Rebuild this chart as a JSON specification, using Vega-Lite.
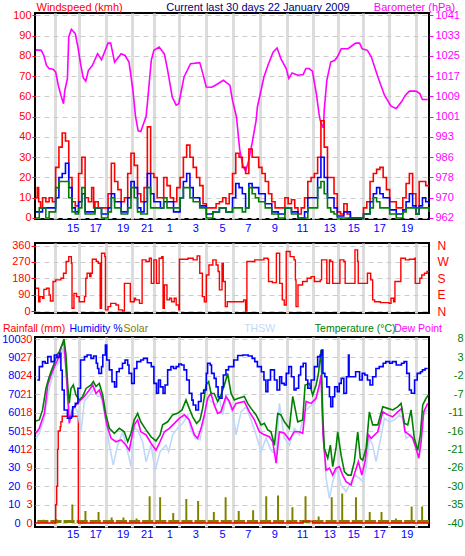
{
  "$schema": "https://vega.github.io/schema/vega-lite/v6.json",
  "autosize": {"type": "pad"},
  "padding": 0,
  "background": "white",
  "bounds": "flush",
  "spacing": 24,
  "config": {
    "view": {"stroke": "black", "strokeWidth": 2},
    "axis": {"labelFont": "Liberation Sans", "labelFontSize": 11, "domain": false, "labelFlush": false, "labelOverlap": false, "labelBound": false, "labelLimit": 400}
  },
  "datasets": {
    "baro": [
      {"t":0,"v":1027.6},{"t":0.4,"v":1027.4},{"t":0.6,"v":1025.4},{"t":0.8,"v":1021.5},{"t":1.0,"v":1020.3},{"t":1.3,"v":1020},{"t":1.5,"v":1019},{"t":1.7,"v":1013.8},{"t":1.9,"v":1009.9},{"t":2.1,"v":1006.6},{"t":2.2,"v":1011.8},{"t":2.4,"v":1016.4},{"t":2.5,"v":1032.6},{"t":2.7,"v":1035.6},{"t":3.0,"v":1033.9},{"t":3.2,"v":1028.7},{"t":3.4,"v":1022.2},{"t":3.6,"v":1016.7},{"t":3.8,"v":1015.4},{"t":4.0,"v":1019.6},{"t":4.3,"v":1021.5},{"t":4.7,"v":1026.1},{"t":5.0,"v":1023.7},{"t":5.5,"v":1030.2},{"t":5.7,"v":1030.2},{"t":6.0,"v":1022.8},{"t":6.5,"v":1026.1},{"t":6.8,"v":1025.4},{"t":7.1,"v":1022.8},{"t":7.4,"v":1011.8},{"t":7.6,"v":1001.5},{"t":7.8,"v":996},{"t":8.0,"v":995.7},{"t":8.2,"v":998.7},{"t":8.4,"v":1001.5},{"t":8.5,"v":1006.6},{"t":8.8,"v":1023.5},{"t":9.0,"v":1027.4},{"t":9.4,"v":1028.7},{"t":9.8,"v":1026},{"t":10.05,"v":1019.6},{"t":10.4,"v":1009.2},{"t":10.7,"v":1006},{"t":10.9,"v":1006.6},{"t":11.3,"v":1017},{"t":11.8,"v":1022.2},{"t":12.5,"v":1022.6},{"t":12.7,"v":1019},{"t":13.0,"v":1013.1},{"t":13.4,"v":1013},{"t":13.7,"v":1013.8},{"t":14.3,"v":1015.7},{"t":14.8,"v":1013.8},{"t":15.0,"v":1007.9},{"t":15.3,"v":1001.5},{"t":15.55,"v":988.7},{"t":15.8,"v":982.3},{"t":16.0,"v":980.3},{"t":16.2,"v":983.6},{"t":16.5,"v":991.3},{"t":16.8,"v":1000},{"t":16.9,"v":1005.3},{"t":17.4,"v":1017},{"t":17.7,"v":1021.5},{"t":18.1,"v":1026.7},{"t":18.4,"v":1028.3},{"t":18.7,"v":1024.1},{"t":19.1,"v":1020.3},{"t":19.3,"v":1016.4},{"t":19.55,"v":1018.6},{"t":20.0,"v":1017.7},{"t":20.4,"v":1018},{"t":20.6,"v":1020.3},{"t":20.85,"v":1020.3},{"t":21.1,"v":1019.3},{"t":21.4,"v":1010.5},{"t":21.6,"v":1002.8},{"t":21.7,"v":1000},{"t":21.9,"v":997.4},{"t":21.95,"v":997.4},{"t":22.0,"v":1004},{"t":22.2,"v":1015.7},{"t":22.5,"v":1022.8},{"t":22.8,"v":1023.5},{"t":23.0,"v":1024.8},{"t":23.3,"v":1028},{"t":23.8,"v":1028},{"t":24.0,"v":1028.7},{"t":24.4,"v":1030.2},{"t":24.7,"v":1030.2},{"t":24.9,"v":1028},{"t":25.3,"v":1027.4},{"t":25.6,"v":1024.8},{"t":26.1,"v":1017},{"t":26.6,"v":1009.9},{"t":27.1,"v":1005.6},{"t":27.5,"v":1004.7},{"t":27.9,"v":1007.3},{"t":28.2,"v":1009.9},{"t":28.5,"v":1011.5},{"t":29.0,"v":1011.5},{"t":29.3,"v":1010.5},{"t":29.5,"v":1008.2},{"t":29.9,"v":1008.2}
    ],
    "gust": [
      {"t":0,"v":10},{"t":0.1,"v":15},{"t":0.2,"v":8},{"t":0.35,"v":5},{"t":0.5,"v":10},{"t":0.75,"v":8},{"t":1.0,"v":10},{"t":1.25,"v":8},{"t":1.5,"v":25},{"t":1.75,"v":35},{"t":2.0,"v":42},{"t":2.25,"v":38},{"t":2.5,"v":20},{"t":2.75,"v":8},{"t":3.0,"v":6},{"t":3.25,"v":22},{"t":3.5,"v":30},{"t":3.75,"v":10},{"t":4.0,"v":8},{"t":4.25,"v":15},{"t":4.4,"v":5},{"t":4.5,"v":8},{"t":4.75,"v":5},{"t":5.0,"v":5},{"t":5.25,"v":5},{"t":5.5,"v":12},{"t":5.75,"v":27},{"t":6.0,"v":18},{"t":6.25,"v":14},{"t":6.5,"v":8},{"t":6.75,"v":10},{"t":7.0,"v":22},{"t":7.25,"v":32},{"t":7.5,"v":26},{"t":7.75,"v":12},{"t":8.0,"v":8},{"t":8.25,"v":15},{"t":8.5,"v":45},{"t":8.75,"v":22},{"t":9.0,"v":20},{"t":9.25,"v":10},{"t":9.5,"v":10},{"t":9.75,"v":20},{"t":10.0,"v":16},{"t":10.25,"v":10},{"t":10.5,"v":8},{"t":10.75,"v":15},{"t":11.0,"v":20},{"t":11.25,"v":30},{"t":11.5,"v":36},{"t":11.75,"v":30},{"t":12.0,"v":25},{"t":12.25,"v":20},{"t":12.5,"v":16},{"t":12.75,"v":7},{"t":13.0,"v":5},{"t":13.25,"v":5},{"t":13.5,"v":5},{"t":13.75,"v":7},{"t":14.0,"v":8},{"t":14.25,"v":10},{"t":14.5,"v":7},{"t":14.75,"v":12},{"t":15.0,"v":22},{"t":15.25,"v":32},{"t":15.5,"v":30},{"t":15.75,"v":25},{"t":16.0,"v":22},{"t":16.25,"v":34},{"t":16.5,"v":30},{"t":16.75,"v":30},{"t":17.0,"v":25},{"t":17.25,"v":22},{"t":17.5,"v":18},{"t":17.75,"v":12},{"t":18.0,"v":8},{"t":18.25,"v":5},{"t":18.5,"v":5},{"t":18.75,"v":5},{"t":19.0,"v":10},{"t":19.25,"v":7},{"t":19.5,"v":9},{"t":19.75,"v":5},{"t":20.0,"v":2},{"t":20.25,"v":5},{"t":20.5,"v":10},{"t":20.75,"v":18},{"t":21.0,"v":20},{"t":21.25,"v":22},{"t":21.5,"v":30},{"t":21.75,"v":48},{"t":22.0,"v":35},{"t":22.25,"v":20},{"t":22.5,"v":20},{"t":22.75,"v":12},{"t":23.0,"v":3},{"t":23.25,"v":2},{"t":23.5,"v":7},{"t":23.75,"v":2},{"t":24.0,"v":0},{"t":25.0,"v":5},{"t":25.25,"v":8},{"t":25.5,"v":18},{"t":25.75,"v":22},{"t":26.0,"v":24},{"t":26.25,"v":25},{"t":26.5,"v":20},{"t":26.75,"v":14},{"t":27.0,"v":8},{"t":27.25,"v":8},{"t":27.5,"v":5},{"t":27.75,"v":5},{"t":28.0,"v":10},{"t":28.25,"v":17},{"t":28.5,"v":22},{"t":28.75,"v":12},{"t":29.0,"v":5},{"t":29.25,"v":18},{"t":29.5,"v":18},{"t":29.75,"v":16},{"t":30,"v":16}
    ],
    "avg": [
      {"t":0,"v":3},{"t":0.5,"v":5},{"t":1,"v":5},{"t":1.5,"v":10},{"t":1.75,"v":20},{"t":2,"v":22},{"t":2.25,"v":27},{"t":2.5,"v":15},{"t":2.75,"v":5},{"t":3,"v":3},{"t":3.25,"v":8},{"t":3.5,"v":12},{"t":3.75,"v":3},{"t":4,"v":3},{"t":4.5,"v":5},{"t":5,"v":2},{"t":5.5,"v":5},{"t":5.75,"v":12},{"t":6,"v":8},{"t":6.5,"v":3},{"t":7,"v":10},{"t":7.25,"v":18},{"t":7.5,"v":15},{"t":7.75,"v":5},{"t":8,"v":3},{"t":8.25,"v":8},{"t":8.5,"v":22},{"t":8.75,"v":12},{"t":9,"v":8},{"t":9.5,"v":5},{"t":9.75,"v":8},{"t":10,"v":8},{"t":10.5,"v":3},{"t":11,"v":10},{"t":11.25,"v":18},{"t":11.5,"v":22},{"t":11.75,"v":15},{"t":12,"v":10},{"t":12.5,"v":6},{"t":13,"v":2},{"t":13.5,"v":3},{"t":14,"v":5},{"t":14.5,"v":3},{"t":15,"v":10},{"t":15.25,"v":17},{"t":15.5,"v":15},{"t":15.75,"v":12},{"t":16,"v":5},{"t":16.25,"v":17},{"t":16.5,"v":15},{"t":16.75,"v":15},{"t":17,"v":12},{"t":17.5,"v":7},{"t":18,"v":3},{"t":18.5,"v":2},{"t":19,"v":5},{"t":19.5,"v":3},{"t":20,"v":0},{"t":20.5,"v":3},{"t":20.75,"v":10},{"t":21,"v":10},{"t":21.5,"v":20},{"t":21.75,"v":30},{"t":22,"v":20},{"t":22.25,"v":10},{"t":22.5,"v":10},{"t":22.75,"v":5},{"t":23,"v":1},{"t":23.5,"v":3},{"t":24,"v":0},{"t":25,"v":2},{"t":25.5,"v":8},{"t":25.75,"v":12},{"t":26,"v":15},{"t":26.25,"v":12},{"t":26.5,"v":10},{"t":27,"v":4},{"t":27.5,"v":2},{"t":28,"v":4},{"t":28.25,"v":8},{"t":28.5,"v":12},{"t":28.75,"v":6},{"t":29,"v":2},{"t":29.25,"v":6},{"t":29.5,"v":10},{"t":29.75,"v":8},{"t":30,"v":7}
    ],
    "low": [
      {"t":0,"v":0},{"t":0.25,"v":5},{"t":0.5,"v":5},{"t":0.75,"v":0},{"t":1,"v":3},{"t":1.5,"v":15},{"t":1.75,"v":18},{"t":2,"v":18},{"t":2.25,"v":18},{"t":2.5,"v":10},{"t":2.75,"v":3},{"t":3,"v":2},{"t":3.25,"v":5},{"t":3.5,"v":15},{"t":3.75,"v":2},{"t":4,"v":2},{"t":4.5,"v":5},{"t":5,"v":0},{"t":5.5,"v":3},{"t":5.75,"v":10},{"t":6,"v":5},{"t":6.5,"v":2},{"t":7,"v":5},{"t":7.25,"v":15},{"t":7.5,"v":10},{"t":7.75,"v":3},{"t":8,"v":2},{"t":8.5,"v":15},{"t":8.75,"v":5},{"t":9,"v":5},{"t":9.5,"v":5},{"t":9.75,"v":10},{"t":10,"v":5},{"t":10.5,"v":5},{"t":11,"v":10},{"t":11.25,"v":15},{"t":11.5,"v":15},{"t":11.75,"v":10},{"t":12,"v":8},{"t":12.5,"v":5},{"t":13,"v":0},{"t":13.5,"v":3},{"t":14,"v":5},{"t":14.5,"v":3},{"t":15,"v":5},{"t":15.75,"v":3},{"t":16,"v":5},{"t":16.25,"v":15},{"t":16.5,"v":12},{"t":16.75,"v":10},{"t":17,"v":8},{"t":17.5,"v":5},{"t":18,"v":2},{"t":18.5,"v":0},{"t":19,"v":5},{"t":19.5,"v":2},{"t":20,"v":0},{"t":20.75,"v":5},{"t":21.5,"v":15},{"t":21.75,"v":18},{"t":22,"v":12},{"t":22.25,"v":5},{"t":22.5,"v":3},{"t":22.75,"v":2},{"t":23,"v":0},{"t":25,"v":2},{"t":25.5,"v":5},{"t":25.75,"v":10},{"t":26,"v":8},{"t":26.25,"v":5},{"t":27,"v":2},{"t":27.5,"v":0},{"t":28,"v":3},{"t":28.25,"v":5},{"t":29,"v":2},{"t":29.25,"v":5},{"t":30,"v":3}
    ],
    "dir": [
      {"t":0,"v":125},{"t":0.2,"v":51},{"t":0.3,"v":79},{"t":0.5,"v":70},{"t":0.6,"v":119},{"t":0.8,"v":125},{"t":1.0,"v":88},{"t":1.1,"v":55},{"t":1.3,"v":162},{"t":1.5,"v":171},{"t":1.9,"v":180},{"t":2.1,"v":208},{"t":2.3,"v":272},{"t":2.5,"v":299},{"t":2.7,"v":263},{"t":2.75,"v":15},{"t":2.9,"v":97},{"t":3.1,"v":79},{"t":3.3,"v":51},{"t":3.7,"v":79},{"t":3.8,"v":180},{"t":3.9,"v":208},{"t":4.1,"v":189},{"t":4.2,"v":208},{"t":4.3,"v":285},{"t":4.6,"v":272},{"t":4.75,"v":263},{"t":4.9,"v":15},{"t":5.0,"v":318},{"t":5.25,"v":299},{"t":5.3,"v":6},{"t":5.5,"v":24},{"t":5.7,"v":42},{"t":6.1,"v":33},{"t":6.3,"v":6},{"t":6.6,"v":0},{"t":6.75,"v":152},{"t":7.1,"v":152},{"t":7.2,"v":51},{"t":7.5,"v":70},{"t":7.6,"v":61},{"t":7.9,"v":42},{"t":8.1,"v":281},{"t":8.4,"v":272},{"t":8.65,"v":290},{"t":8.8,"v":152},{"t":9.0,"v":281},{"t":9.2,"v":152},{"t":9.4,"v":290},{"t":9.6,"v":299},{"t":9.7,"v":15},{"t":9.8,"v":143},{"t":10.0,"v":61},{"t":10.2,"v":70},{"t":10.35,"v":51},{"t":10.55,"v":70},{"t":10.7,"v":33},{"t":10.9,"v":6},{"t":10.95,"v":285},{"t":11.6,"v":290},{"t":12.0,"v":281},{"t":12.3,"v":303},{"t":12.5,"v":208},{"t":12.7,"v":79},{"t":12.85,"v":51},{"t":13.0,"v":198},{"t":13.2,"v":253},{"t":13.5,"v":281},{"t":13.75,"v":253},{"t":13.9,"v":217},{"t":14.0,"v":116},{"t":14.2,"v":263},{"t":14.3,"v":162},{"t":14.45,"v":24},{"t":14.6,"v":51},{"t":15.85,"v":61},{"t":16.0,"v":0},{"t":16.1,"v":272},{"t":16.7,"v":281},{"t":17.4,"v":290},{"t":17.7,"v":285},{"t":17.75,"v":162},{"t":18.05,"v":156},{"t":18.35,"v":318},{"t":18.6,"v":152},{"t":18.8,"v":61},{"t":18.95,"v":33},{"t":19.1,"v":327},{"t":19.4,"v":299},{"t":19.7,"v":281},{"t":19.8,"v":171},{"t":19.85,"v":24},{"t":20.0,"v":143},{"t":20.35,"v":162},{"t":20.7,"v":180},{"t":21.0,"v":189},{"t":21.25,"v":162},{"t":21.7,"v":171},{"t":21.8,"v":281},{"t":22.1,"v":281},{"t":22.2,"v":152},{"t":22.4,"v":281},{"t":22.5,"v":272},{"t":22.65,"v":152},{"t":23.1,"v":152},{"t":23.2,"v":281},{"t":23.5,"v":272},{"t":23.6,"v":152},{"t":24.25,"v":152},{"t":24.35,"v":336},{"t":24.55,"v":272},{"t":24.6,"v":152},{"t":25.25,"v":152},{"t":25.3,"v":208},{"t":25.55,"v":171},{"t":25.7,"v":61},{"t":25.85,"v":51},{"t":26.3,"v":46},{"t":26.95,"v":42},{"t":27.1,"v":70},{"t":27.3,"v":51},{"t":27.4,"v":162},{"t":27.7,"v":162},{"t":27.85,"v":290},{"t":28.2,"v":281},{"t":28.5,"v":285},{"t":28.9,"v":290},{"t":28.95,"v":152},{"t":29.3,"v":180},{"t":29.45,"v":198},{"t":29.65,"v":208},{"t":29.85,"v":217},{"t":30,"v":217}
    ],
    "rain": [
      {"t":0,"v":0},{"t":1.47,"v":0},{"t":1.5,"v":3},{"t":1.58,"v":6},{"t":1.65,"v":12},{"t":1.7,"v":15},{"t":1.85,"v":15.7},{"t":1.9,"v":16.5},{"t":2.0,"v":17.4},{"t":3.23,"v":0},{"t":20.4,"v":0.3},{"t":21.1,"v":0},{"t":30,"v":0}
    ],
    "solar": [
      {"t":0.1,"v":1.6},{"t":0.5,"v":1.8},{"t":0.65,"v":1.6},{"t":0.95,"v":0},
      {"t":1.1,"v":1.6},{"t":1.5,"v":2},{"t":1.65,"v":1.6},{"t":1.95,"v":0},
      {"t":2.1,"v":1.6},{"t":2.7,"v":10},{"t":2.85,"v":1.6},{"t":2.95,"v":0},
      {"t":3.1,"v":1.6},{"t":3.7,"v":6.5},{"t":3.85,"v":1.6},{"t":3.95,"v":0},
      {"t":4.1,"v":1.6},{"t":4.7,"v":6},{"t":4.85,"v":1.6},{"t":4.95,"v":0},
      {"t":5.1,"v":1.6},{"t":5.7,"v":3},{"t":5.85,"v":1.6},{"t":5.95,"v":0},
      {"t":6.1,"v":1.6},{"t":6.6,"v":3},{"t":6.75,"v":1.6},{"t":6.95,"v":0},
      {"t":7.1,"v":1.6},{"t":7.6,"v":2.5},{"t":7.75,"v":1.6},{"t":7.95,"v":0},
      {"t":8.1,"v":1.6},{"t":8.6,"v":14.5},{"t":8.75,"v":1.6},{"t":8.95,"v":0},
      {"t":9.1,"v":1.6},{"t":9.4,"v":14},{"t":9.55,"v":1.6},{"t":9.95,"v":0},
      {"t":10.1,"v":1.6},{"t":10.4,"v":5.5},{"t":10.55,"v":1.6},{"t":10.95,"v":0},
      {"t":11.1,"v":1.6},{"t":11.4,"v":13},{"t":11.55,"v":1.6},{"t":11.95,"v":0},
      {"t":12.1,"v":1.6},{"t":12.3,"v":12},{"t":12.45,"v":1.6},{"t":12.95,"v":0},
      {"t":13.1,"v":1.6},{"t":13.5,"v":6},{"t":13.65,"v":1.6},{"t":13.95,"v":0},
      {"t":14.1,"v":1.6},{"t":14.4,"v":14},{"t":14.55,"v":1.6},{"t":14.95,"v":0},
      {"t":15.1,"v":1.6},{"t":15.4,"v":6.5},{"t":15.55,"v":1.6},{"t":15.95,"v":0},
      {"t":16.1,"v":1.6},{"t":16.5,"v":7},{"t":16.65,"v":1.6},{"t":16.95,"v":0},
      {"t":17.1,"v":1.6},{"t":17.5,"v":14.5},{"t":17.65,"v":1.6},{"t":17.95,"v":0},
      {"t":18.1,"v":1.6},{"t":18.4,"v":15},{"t":18.55,"v":1.6},{"t":18.95,"v":0},
      {"t":19.1,"v":1.6},{"t":19.5,"v":8.5},{"t":19.65,"v":1.6},{"t":19.95,"v":0},
      {"t":20.1,"v":1.6},{"t":20.5,"v":14.5},{"t":20.65,"v":1.6},{"t":20.95,"v":0},
      {"t":21.1,"v":1.6},{"t":21.5,"v":3.5},{"t":21.65,"v":1.6},{"t":21.95,"v":0},
      {"t":22.1,"v":1.6},{"t":22.5,"v":14},{"t":22.65,"v":1.6},{"t":22.95,"v":0},
      {"t":23.1,"v":1.6},{"t":23.3,"v":16},{"t":23.45,"v":1.6},{"t":23.95,"v":0},
      {"t":24.1,"v":1.6},{"t":24.35,"v":14},{"t":24.5,"v":1.6},{"t":24.95,"v":0},
      {"t":25.1,"v":1.6},{"t":25.4,"v":6},{"t":25.55,"v":1.6},{"t":25.95,"v":0},
      {"t":26.1,"v":1.6},{"t":26.3,"v":6},{"t":26.45,"v":1.6},{"t":26.95,"v":0},
      {"t":27.1,"v":1.6},{"t":27.4,"v":2.5},{"t":27.55,"v":1.6},{"t":27.95,"v":0},
      {"t":28.1,"v":1.6},{"t":28.6,"v":9},{"t":28.75,"v":1.6},{"t":28.95,"v":0},
      {"t":29.1,"v":1.6},{"t":29.4,"v":9},{"t":29.55,"v":1.6},{"t":30,"v":1.6}
    ],
    "hum": [
      {"t":0.1,"v":77.7},{"t":0.25,"v":85},{"t":0.5,"v":87.7},{"t":0.7,"v":86.8},{"t":0.9,"v":90.4},{"t":1.15,"v":87.7},{"t":1.4,"v":91.3},{"t":1.6,"v":90},{"t":1.8,"v":92.2},{"t":1.9,"v":83},{"t":2.0,"v":72.3},{"t":2.15,"v":61.4},{"t":2.4,"v":57},{"t":2.7,"v":57.8},{"t":2.8,"v":63.2},{"t":3.0,"v":65},{"t":3.2,"v":73.2},{"t":3.4,"v":88.6},{"t":3.7,"v":90.4},{"t":3.9,"v":91.3},{"t":4.2,"v":89.5},{"t":4.4,"v":90.8},{"t":4.6,"v":86.8},{"t":4.7,"v":84},{"t":4.8,"v":81.3},{"t":5.0,"v":85},{"t":5.1,"v":91.3},{"t":5.3,"v":96.7},{"t":5.4,"v":88.6},{"t":5.6,"v":83.2},{"t":5.8,"v":76.8},{"t":6.0,"v":74},{"t":6.15,"v":82.2},{"t":6.35,"v":84},{"t":6.6,"v":86.8},{"t":6.8,"v":88.6},{"t":7.0,"v":85.9},{"t":7.1,"v":81.3},{"t":7.3,"v":75.9},{"t":7.5,"v":84},{"t":7.7,"v":87.7},{"t":8.0,"v":88.6},{"t":8.2,"v":89.5},{"t":8.5,"v":87.1},{"t":8.8,"v":85},{"t":9.0,"v":75.9},{"t":9.2,"v":70.5},{"t":9.35,"v":77.7},{"t":9.5,"v":74},{"t":9.7,"v":70.5},{"t":9.85,"v":75},{"t":10.05,"v":83.2},{"t":10.3,"v":85},{"t":10.5,"v":84},{"t":10.7,"v":85},{"t":10.9,"v":86.4},{"t":11.1,"v":85.9},{"t":11.3,"v":83.2},{"t":11.5,"v":77.7},{"t":11.7,"v":70.5},{"t":11.9,"v":66.8},{"t":12.0,"v":64.1},{"t":12.2,"v":61.4},{"t":12.4,"v":66},{"t":12.6,"v":70.5},{"t":12.8,"v":72.3},{"t":13.0,"v":81.3},{"t":13.1,"v":86.8},{"t":13.3,"v":85.9},{"t":13.4,"v":81.3},{"t":13.6,"v":78.6},{"t":13.75,"v":74},{"t":13.9,"v":68.6},{"t":14.0,"v":67.8},{"t":14.2,"v":74},{"t":14.3,"v":80.4},{"t":14.5,"v":83.2},{"t":14.7,"v":85},{"t":14.9,"v":85},{"t":15.1,"v":88.6},{"t":15.4,"v":91},{"t":15.8,"v":91.3},{"t":16.2,"v":90.8},{"t":16.5,"v":89.5},{"t":16.7,"v":87.7},{"t":16.9,"v":85},{"t":17.2,"v":82.2},{"t":17.4,"v":77.7},{"t":17.55,"v":71.4},{"t":17.7,"v":77.7},{"t":17.9,"v":83.2},{"t":18.2,"v":77.7},{"t":18.4,"v":72.3},{"t":18.6,"v":79.5},{"t":18.75,"v":75.9},{"t":18.95,"v":75},{"t":19.1,"v":81.3},{"t":19.3,"v":85},{"t":19.5,"v":79.5},{"t":19.7,"v":72.3},{"t":19.85,"v":73.2},{"t":20.05,"v":80.4},{"t":20.2,"v":85},{"t":20.4,"v":86.8},{"t":20.6,"v":77.7},{"t":20.75,"v":73.2},{"t":21.0,"v":77.7},{"t":21.25,"v":85},{"t":21.5,"v":90.4},{"t":21.7,"v":91.3},{"t":21.8,"v":94},{"t":21.9,"v":81.3},{"t":22.05,"v":79.5},{"t":22.2,"v":74},{"t":22.4,"v":68.6},{"t":22.5,"v":63.2},{"t":22.65,"v":68.6},{"t":22.8,"v":74},{"t":23.0,"v":71.4},{"t":23.15,"v":75.9},{"t":23.3,"v":78.6},{"t":23.5,"v":70.5},{"t":23.7,"v":79.5},{"t":23.85,"v":91.3},{"t":23.9,"v":79.5},{"t":24.2,"v":79.5},{"t":24.4,"v":82.2},{"t":24.7,"v":77.7},{"t":24.9,"v":81.3},{"t":25.1,"v":80.4},{"t":25.3,"v":77.7},{"t":25.5,"v":75},{"t":25.7,"v":79.5},{"t":25.95,"v":84},{"t":26.2,"v":85},{"t":26.5,"v":86.8},{"t":26.7,"v":87.7},{"t":27.0,"v":86.8},{"t":27.2,"v":87.7},{"t":27.5,"v":85.9},{"t":27.9,"v":86.8},{"t":28.1,"v":87.7},{"t":28.3,"v":81.3},{"t":28.5,"v":72.3},{"t":28.65,"v":70.5},{"t":28.9,"v":77.7},{"t":29.1,"v":81.3},{"t":29.35,"v":82.2},{"t":29.5,"v":83.2},{"t":29.7,"v":84},{"t":29.9,"v":84}
    ],
    "temp": [
      {"t":0,"v":-13.4},{"t":0.25,"v":-13.1},{"t":0.5,"v":-10.5},{"t":0.76,"v":-4.9},{"t":0.97,"v":-2.3},{"t":1.15,"v":-0.5},{"t":1.4,"v":1.7},{"t":1.58,"v":3.8},{"t":1.78,"v":4.7},{"t":1.98,"v":6.4},{"t":2.14,"v":8},{"t":2.29,"v":3.8},{"t":2.42,"v":-4},{"t":2.54,"v":-8.8},{"t":2.67,"v":-4.9},{"t":2.85,"v":-4},{"t":3.05,"v":-6.6},{"t":3.3,"v":-7.9},{"t":3.56,"v":-7},{"t":3.82,"v":-4.9},{"t":4.2,"v":-4},{"t":4.38,"v":-3.1},{"t":4.58,"v":-4.4},{"t":4.83,"v":-3.6},{"t":5.09,"v":-6.6},{"t":5.34,"v":-11.8},{"t":5.6,"v":-15.3},{"t":5.98,"v":-16.6},{"t":6.36,"v":-15.3},{"t":6.74,"v":-16.2},{"t":7.0,"v":-18.8},{"t":7.25,"v":-16.6},{"t":7.5,"v":-13.1},{"t":7.76,"v":-11.4},{"t":8.0,"v":-13.6},{"t":8.4,"v":-15.7},{"t":8.78,"v":-17.5},{"t":9.16,"v":-18.6},{"t":9.47,"v":-17},{"t":9.67,"v":-14.4},{"t":10.05,"v":-13.6},{"t":10.43,"v":-11.8},{"t":10.8,"v":-11.4},{"t":11.15,"v":-10.5},{"t":11.45,"v":-7.9},{"t":11.7,"v":-10.1},{"t":11.96,"v":-12.3},{"t":12.26,"v":-14},{"t":12.52,"v":-13.1},{"t":12.72,"v":-10.1},{"t":12.98,"v":-4},{"t":13.18,"v":-3.1},{"t":13.36,"v":-6.2},{"t":13.6,"v":-6.2},{"t":13.87,"v":-8.3},{"t":14.12,"v":-6.6},{"t":14.38,"v":-4},{"t":14.63,"v":-1},{"t":14.89,"v":-6.2},{"t":15.14,"v":-7.9},{"t":15.4,"v":-7.5},{"t":15.9,"v":-7},{"t":16.16,"v":-8.8},{"t":16.42,"v":-10.1},{"t":16.8,"v":-11.8},{"t":17.18,"v":-14.4},{"t":17.43,"v":-14},{"t":17.69,"v":-15.7},{"t":17.94,"v":-16.2},{"t":18.2,"v":-19.7},{"t":18.45,"v":-11.4},{"t":18.7,"v":-11.8},{"t":18.96,"v":-13.6},{"t":19.34,"v":-15.3},{"t":19.6,"v":-7},{"t":19.98,"v":-13.6},{"t":20.36,"v":-13.1},{"t":20.54,"v":-4},{"t":20.87,"v":-3.6},{"t":21.12,"v":-6.6},{"t":21.38,"v":-4},{"t":21.56,"v":-1},{"t":21.76,"v":5.1},{"t":21.89,"v":-11.8},{"t":22.01,"v":-20.5},{"t":22.27,"v":-23.1},{"t":22.47,"v":-19.7},{"t":22.65,"v":-25.3},{"t":22.9,"v":-20.5},{"t":23.03,"v":-16.2},{"t":23.29,"v":-22.3},{"t":23.54,"v":-26.6},{"t":23.8,"v":-27.5},{"t":24.05,"v":-27.5},{"t":24.3,"v":-24},{"t":24.56,"v":-16.2},{"t":24.76,"v":-23.1},{"t":24.94,"v":-23.6},{"t":25.2,"v":-20.5},{"t":25.45,"v":-11},{"t":25.7,"v":-14.4},{"t":26.09,"v":-14.4},{"t":26.47,"v":-9.7},{"t":26.85,"v":-10.1},{"t":27.23,"v":-10.5},{"t":27.61,"v":-9.7},{"t":27.87,"v":-8.8},{"t":28.12,"v":-14},{"t":28.38,"v":-14.4},{"t":28.63,"v":-10.5},{"t":28.88,"v":-17.9},{"t":29.14,"v":-21},{"t":29.34,"v":-17},{"t":29.52,"v":-9.2},{"t":29.77,"v":-7.5},{"t":29.95,"v":-6.6}
    ],
    "dew": [
      {"t":0,"v":-16.6},{"t":0.25,"v":-15.3},{"t":0.64,"v":-11.4},{"t":0.9,"v":-4},{"t":1.15,"v":-1.4},{"t":1.4,"v":0.8},{"t":1.65,"v":2.5},{"t":1.98,"v":6.4},{"t":2.14,"v":6.9},{"t":2.34,"v":-2.3},{"t":2.54,"v":-14},{"t":2.8,"v":-10.1},{"t":3.05,"v":-9.2},{"t":3.3,"v":-8.3},{"t":3.69,"v":-7},{"t":4.07,"v":-5.3},{"t":4.33,"v":-4},{"t":4.58,"v":-6.2},{"t":4.83,"v":-5.3},{"t":5.09,"v":-7.9},{"t":5.4,"v":-14.4},{"t":5.73,"v":-17.9},{"t":6.1,"v":-18.8},{"t":6.5,"v":-18.3},{"t":6.87,"v":-19.7},{"t":7.12,"v":-21},{"t":7.5,"v":-14.4},{"t":7.76,"v":-13.1},{"t":8.0,"v":-16.2},{"t":8.4,"v":-17},{"t":8.78,"v":-19.2},{"t":9.16,"v":-21},{"t":9.47,"v":-18.8},{"t":9.8,"v":-16.2},{"t":10.18,"v":-15.3},{"t":10.56,"v":-14},{"t":10.94,"v":-12.7},{"t":11.32,"v":-11.8},{"t":11.7,"v":-13.1},{"t":12.09,"v":-17},{"t":12.34,"v":-17.9},{"t":12.6,"v":-15.3},{"t":12.85,"v":-11.8},{"t":13.1,"v":-7.5},{"t":13.36,"v":-6.2},{"t":13.6,"v":-9.2},{"t":13.87,"v":-11.4},{"t":14.12,"v":-11},{"t":14.5,"v":-7},{"t":14.76,"v":-8.3},{"t":15.0,"v":-10.5},{"t":15.27,"v":-8.8},{"t":15.9,"v":-8.3},{"t":16.29,"v":-11},{"t":16.67,"v":-13.1},{"t":17.05,"v":-16.2},{"t":17.43,"v":-17},{"t":17.82,"v":-17.5},{"t":18.07,"v":-18.8},{"t":18.33,"v":-24.4},{"t":18.58,"v":-16.2},{"t":18.96,"v":-16.6},{"t":19.34,"v":-18.3},{"t":19.72,"v":-16.2},{"t":20.1,"v":-16.2},{"t":20.36,"v":-16.6},{"t":20.62,"v":-8.3},{"t":21.0,"v":-8.8},{"t":21.38,"v":-7.5},{"t":21.63,"v":-4},{"t":21.76,"v":-1.4},{"t":21.91,"v":-17},{"t":22.14,"v":-26.2},{"t":22.4,"v":-25.7},{"t":22.65,"v":-27.5},{"t":22.9,"v":-25.7},{"t":23.16,"v":-25.3},{"t":23.41,"v":-27.5},{"t":23.67,"v":-29.2},{"t":24.05,"v":-30.1},{"t":24.36,"v":-26.6},{"t":24.61,"v":-24},{"t":24.87,"v":-27.5},{"t":25.12,"v":-24},{"t":25.37,"v":-17},{"t":25.58,"v":-17.9},{"t":26.09,"v":-16.2},{"t":26.47,"v":-11},{"t":26.85,"v":-11.8},{"t":27.23,"v":-12.3},{"t":27.61,"v":-11},{"t":27.92,"v":-10.1},{"t":28.17,"v":-16.2},{"t":28.5,"v":-17},{"t":28.76,"v":-17.9},{"t":29.01,"v":-20.5},{"t":29.22,"v":-23.1},{"t":29.4,"v":-18.8},{"t":29.6,"v":-11},{"t":29.9,"v":-8.8}
    ],
    "thsw": [
      {"t":0,"v":-17.9},{"t":0.25,"v":-16.6},{"t":0.64,"v":-12.7},{"t":0.9,"v":-6.6},{"t":1.15,"v":-3.1},{"t":1.4,"v":0},{"t":1.78,"v":2.1},{"t":2.04,"v":5.6},{"t":2.24,"v":2.1},{"t":2.42,"v":-8.3},{"t":2.67,"v":-11.8},{"t":2.93,"v":-9.7},{"t":3.18,"v":-11},{"t":3.44,"v":-16.2},{"t":3.69,"v":-8.3},{"t":4.07,"v":-6.6},{"t":4.45,"v":-4.9},{"t":4.7,"v":-7},{"t":4.96,"v":-7},{"t":5.22,"v":-11},{"t":5.6,"v":-19.7},{"t":5.9,"v":-24.9},{"t":6.23,"v":-19.7},{"t":6.62,"v":-16.2},{"t":7.0,"v":-21.4},{"t":7.25,"v":-25.3},{"t":7.5,"v":-15.3},{"t":7.76,"v":-15.7},{"t":8.14,"v":-18.8},{"t":8.4,"v":-24},{"t":8.78,"v":-19.7},{"t":9.1,"v":-26.2},{"t":9.47,"v":-21.4},{"t":9.92,"v":-19.7},{"t":10.13,"v":-21.4},{"t":10.43,"v":-17},{"t":10.8,"v":-15.3},{"t":11.2,"v":-14},{"t":11.58,"v":-11.8},{"t":11.83,"v":-15.7},{"t":12.16,"v":-17.9},{"t":12.52,"v":-18.3},{"t":12.85,"v":-12.7},{"t":13.1,"v":-7.5},{"t":13.36,"v":-8.3},{"t":13.74,"v":-9.2},{"t":14.0,"v":-7.5},{"t":14.25,"v":-11.8},{"t":14.55,"v":-7},{"t":14.76,"v":-8.8},{"t":15.06,"v":-11.8},{"t":15.27,"v":-17},{"t":15.65,"v":-11},{"t":16.03,"v":-9.7},{"t":16.42,"v":-13.1},{"t":16.8,"v":-17},{"t":17.18,"v":-21.4},{"t":17.56,"v":-17.9},{"t":17.94,"v":-21},{"t":18.33,"v":-22.3},{"t":18.58,"v":-8.8},{"t":18.96,"v":-17.9},{"t":19.34,"v":-19.7},{"t":19.72,"v":-15.3},{"t":20.1,"v":-17},{"t":20.49,"v":-11},{"t":20.87,"v":-9.7},{"t":21.25,"v":-8.8},{"t":21.56,"v":-4.9},{"t":21.76,"v":-2.3},{"t":21.96,"v":-18.8},{"t":22.14,"v":-28.3},{"t":22.4,"v":-33.6},{"t":22.65,"v":-29.2},{"t":22.98,"v":-25.7},{"t":23.29,"v":-30.1},{"t":23.67,"v":-31.8},{"t":24.05,"v":-29.2},{"t":24.36,"v":-27.5},{"t":24.69,"v":-28.3},{"t":24.94,"v":-29.2},{"t":25.2,"v":-25.7},{"t":25.45,"v":-17.9},{"t":25.7,"v":-19.7},{"t":25.96,"v":-24},{"t":26.21,"v":-19.7},{"t":26.6,"v":-12.7},{"t":26.98,"v":-13.6},{"t":27.36,"v":-13.1},{"t":27.74,"v":-11.8},{"t":28.0,"v":-12.7},{"t":28.25,"v":-17.9},{"t":28.63,"v":-17},{"t":28.94,"v":-19.7},{"t":29.27,"v":-21.4},{"t":29.52,"v":-11.8},{"t":29.9,"v":-10.5}
    ]
  },
  "vconcat": [
    {
      "width": 394,
      "height": 206,
      "layer": [
        {
          "data": {"name": "baro"},
          "mark": {"type": "line", "color": "#ff00ff", "strokeWidth": 1.6},
          "encoding": {
            "x": {"field": "t", "type": "quantitative", "scale": {"domain": [-0.076, 30], "nice": false}, "title": null,
              "axis": {"orient": "top", "values": [0, 9.9, 25.75], "grid": false, "ticks": false, "labelPadding": 1, "labelAlign": "left",
                "labelExpr": "datum.value < 1 ? 'Windspeed (kmh)' : datum.value < 20 ? 'Current last 30 days 22 January 2009' : 'Barometer (hPa)'",
                "labelColor": {"condition": [{"test": "datum.value < 1", "value": "#ff0000"}, {"test": "datum.value < 20", "value": "#000080"}], "value": "#ff00ff"}}},
            "y": {"field": "v", "type": "quantitative", "scale": {"domain": [961.6, 1041.97], "nice": false}, "title": null,
              "axis": {"orient": "right", "values": [962, 969.9, 977.8, 985.7, 993.6, 1001.5, 1009.4, 1017.3, 1025.2, 1033.1, 1041],
                "labelExpr": "['962','970','978','986','993','1001','1009','1017','1025','1033','1041'][round((datum.value - 962) / 7.9)]",
                "grid": false, "tickColor": "#ff00ff", "tickSize": 4, "labelPadding": 2, "labelColor": "#ff00ff"}}
          }
        },
        {
          "data": {"name": "gust"},
          "mark": {"type": "line", "interpolate": "step-after", "color": "#ff0000", "strokeWidth": 1.6},
          "encoding": {
            "x": {"field": "t", "type": "quantitative", "scale": {"domain": [-0.076, 30], "nice": false}, "title": null,
              "axis": {"orient": "bottom", "values": [1.47, 3.26, 5.34, 7.33, 9.03, 10.94, 12.98, 15.02, 17.1, 19.14, 21.12, 23.03, 24.94, 26.97, 29.01],
                "grid": true, "gridColor": "#dcdcdc", "gridWidth": 3, "labels": false, "ticks": false}},
            "y": {"field": "v", "type": "quantitative", "scale": {"domain": [-0.5, 101.23], "nice": false}, "title": null,
              "axis": {"values": [0, 10, 20, 30, 40, 50, 60, 70, 80, 90, 100], "grid": true, "gridDash": [5, 4], "gridColor": "#cccccc",
                "tickColor": "#ff0000", "tickSize": 3, "labelPadding": 1, "labelColor": "#ff0000"}}
          }
        },
        {
          "data": {"name": "avg"},
          "mark": {"type": "line", "interpolate": "step-after", "color": "#0000ff", "strokeWidth": 1.6},
          "encoding": {
            "x": {"field": "t", "type": "quantitative", "scale": {"domain": [-0.076, 30], "nice": false}, "title": null,
              "axis": {"orient": "bottom", "values": [2.8, 4.53, 6.62, 8.45, 10.18, 12.16, 14.2, 16.16, 18.19, 20.31, 22.39, 24.22, 26.2, 28.3],
                "labelExpr": "['15','17','19','21','1','3','5','7','9','11','13','15','17','19'][indexof([2.8, 4.53, 6.62, 8.45, 10.18, 12.16, 14.2, 16.16, 18.19, 20.31, 22.39, 24.22, 26.2, 28.3], datum.value)]",
                "grid": false, "ticks": false, "labelPadding": 3, "labelColor": "#0000ff"}},
            "y": {"field": "v", "type": "quantitative", "scale": {"domain": [-0.5, 101.23], "nice": false}, "axis": null}
          }
        },
        {
          "data": {"name": "low"},
          "mark": {"type": "line", "interpolate": "step-after", "color": "#008000", "strokeWidth": 1.6},
          "encoding": {
            "x": {"field": "t", "type": "quantitative", "scale": {"domain": [-0.076, 30], "nice": false}, "axis": null},
            "y": {"field": "v", "type": "quantitative", "scale": {"domain": [-0.5, 101.23], "nice": false}, "axis": null}
          }
        }
      ],
      "resolve": {"scale": {"y": "independent"}, "axis": {"x": "independent"}}
    },
    {
      "width": 394,
      "height": 70,
      "data": {"name": "dir"},
      "layer": [
        {
          "mark": {"type": "line", "interpolate": "step-after", "color": "#ff0000", "strokeWidth": 1.4},
          "encoding": {
            "x": {"field": "t", "type": "quantitative", "scale": {"domain": [-0.076, 30], "nice": false}, "title": null,
              "axis": {"values": [1.47, 3.26, 5.34, 7.33, 9.03, 10.94, 12.98, 15.02, 17.1, 19.14, 21.12, 23.03, 24.94, 26.97, 29.01],
                "grid": true, "gridColor": "#dcdcdc", "gridWidth": 3, "labels": false, "ticks": false}},
            "y": {"field": "v", "type": "quantitative", "scale": {"domain": [-11, 374], "nice": false}, "title": null,
              "axis": {"values": [0, 90, 180, 270, 360], "grid": true, "gridDash": [5, 4], "gridColor": "#cccccc",
                "tickColor": "#ff0000", "tickSize": 4, "labelPadding": 1, "labelColor": "#ff0000"}}
          }
        },
        {
          "mark": {"type": "line", "interpolate": "step-after", "opacity": 0},
          "encoding": {
            "x": {"field": "t", "type": "quantitative", "scale": {"domain": [-0.076, 30], "nice": false}, "axis": null},
            "y": {"field": "v", "type": "quantitative", "scale": {"domain": [-11, 374], "nice": false}, "title": null,
              "axis": {"orient": "right", "values": [0, 90, 180, 270, 360], "labelExpr": "['N','E','S','W','N'][round(datum.value / 90)]",
                "grid": false, "ticks": false, "labelPadding": 8, "labelFontSize": 12, "labelColor": "#ff0000"}}
          }
        }
      ],
      "resolve": {"axis": {"y": "independent", "x": "independent"}}
    },
    {
      "width": 394,
      "height": 190,
      "layer": [
        {
          "data": {"name": "solar"},
          "mark": {"type": "area", "interpolate": "step-after", "color": "#808000"},
          "encoding": {
            "x": {"field": "t", "type": "quantitative", "scale": {"domain": [-0.076, 30], "nice": false}, "title": null,
              "axis": {"orient": "top", "values": [2.2, 2.52, 6.65, 15.85, 21.25, 27.3], "grid": false, "ticks": false, "labelPadding": 4, "labelFontSize": 10.5,
                "labelExpr": "datum.value < 2.3 ? 'Rainfall (mm)' : datum.value < 3 ? 'Humidity %' : datum.value < 10 ? 'Solar' : datum.value < 20 ? 'THSW' : datum.value < 25 ? 'Temperature (°C)' : 'Dew Point'",
                "labelAlign": {"condition": {"test": "datum.value < 2.3", "value": "right"}, "value": "left"},
                "labelColor": {"condition": [{"test": "datum.value < 2.3", "value": "#ff0000"}, {"test": "datum.value < 3", "value": "#0000ff"}, {"test": "datum.value < 10", "value": "#808000"}, {"test": "datum.value < 20", "value": "#c0d8f8"}, {"test": "datum.value < 25", "value": "#008000"}], "value": "#ff00ff"}}},
            "y": {"field": "v", "type": "quantitative", "scale": {"domain": [-2.17, 101.09], "nice": false}, "axis": null}
          }
        },
        {
          "data": {"name": "rain"},
          "mark": {"type": "line", "interpolate": "step-after", "color": "#ff0000", "strokeWidth": 1.4},
          "encoding": {
            "x": {"field": "t", "type": "quantitative", "scale": {"domain": [-0.076, 30], "nice": false}, "title": null,
              "axis": {"orient": "bottom", "values": [1.47, 3.26, 5.34, 7.33, 9.03, 10.94, 12.98, 15.02, 17.1, 19.14, 21.12, 23.03, 24.94, 26.97, 29.01],
                "grid": true, "gridColor": "#dcdcdc", "gridWidth": 3, "labels": false, "ticks": false}},
            "y": {"field": "v", "type": "quantitative", "scale": {"domain": [-0.652, 30.33], "nice": false}, "title": null,
              "axis": {"values": [0, 3, 6, 9, 12, 15, 18, 21, 24, 27, 30], "grid": false, "ticks": false, "labelPadding": 3, "labelColor": "#ff0000"}}
          }
        },
        {
          "data": {"name": "thsw"},
          "mark": {"type": "line", "color": "#c0d8f8", "strokeWidth": 1.6},
          "encoding": {
            "x": {"field": "t", "type": "quantitative", "scale": {"domain": [-0.076, 30], "nice": false}, "title": null,
              "axis": {"orient": "bottom", "values": [2.8, 4.53, 6.62, 8.45, 10.18, 12.16, 14.2, 16.16, 18.19, 20.31, 22.39, 24.22, 26.2, 28.3],
                "labelExpr": "['15','17','19','21','1','3','5','7','9','11','13','15','17','19'][indexof([2.8, 4.53, 6.62, 8.45, 10.18, 12.16, 14.2, 16.16, 18.19, 20.31, 22.39, 24.22, 26.2, 28.3], datum.value)]",
                "grid": false, "ticks": false, "labelPadding": 1, "labelColor": "#0000ff"}},
            "y": {"field": "v", "type": "quantitative", "scale": {"domain": [-41.04, 8.52], "nice": false}, "axis": null}
          }
        },
        {
          "data": {"name": "dew"},
          "mark": {"type": "line", "color": "#ff00ff", "strokeWidth": 1.6},
          "encoding": {
            "x": {"field": "t", "type": "quantitative", "scale": {"domain": [-0.076, 30], "nice": false}, "axis": null},
            "y": {"field": "v", "type": "quantitative", "scale": {"domain": [-41.04, 8.52], "nice": false}, "axis": null}
          }
        },
        {
          "data": {"name": "temp"},
          "mark": {"type": "line", "color": "#008000", "strokeWidth": 1.6},
          "encoding": {
            "x": {"field": "t", "type": "quantitative", "scale": {"domain": [-0.076, 30], "nice": false}, "axis": null},
            "y": {"field": "v", "type": "quantitative", "scale": {"domain": [-41.04, 8.52], "nice": false}, "title": null,
              "axis": {"orient": "right", "values": [-40, -35.2, -30.4, -25.6, -20.8, -16, -11.2, -6.4, -1.6, 3.2, 8],
                "labelExpr": "['-40','-35','-30','-26','-21','-16','-11','-7','-2','3','8'][round((datum.value + 40) / 4.8)]",
                "grid": false, "ticks": false, "labelAlign": "right", "labelPadding": 34, "labelColor": "#008000"}}
          }
        },
        {
          "data": {"name": "hum"},
          "mark": {"type": "line", "interpolate": "step-after", "color": "#0000ff", "strokeWidth": 1.6},
          "encoding": {
            "x": {"field": "t", "type": "quantitative", "scale": {"domain": [-0.076, 30], "nice": false}, "axis": null},
            "y": {"field": "v", "type": "quantitative", "scale": {"domain": [-2.17, 101.09], "nice": false}, "title": null,
              "axis": {"values": [0, 10, 20, 30, 40, 50, 60, 70, 80, 90, 100], "offset": 12, "grid": true, "gridDash": [5, 4], "gridColor": "#cccccc",
                "ticks": false, "labelPadding": 3, "labelColor": "#0000ff"}}
          }
        }
      ],
      "resolve": {"scale": {"y": "independent"}, "axis": {"x": "independent"}}
    }
  ]
}
